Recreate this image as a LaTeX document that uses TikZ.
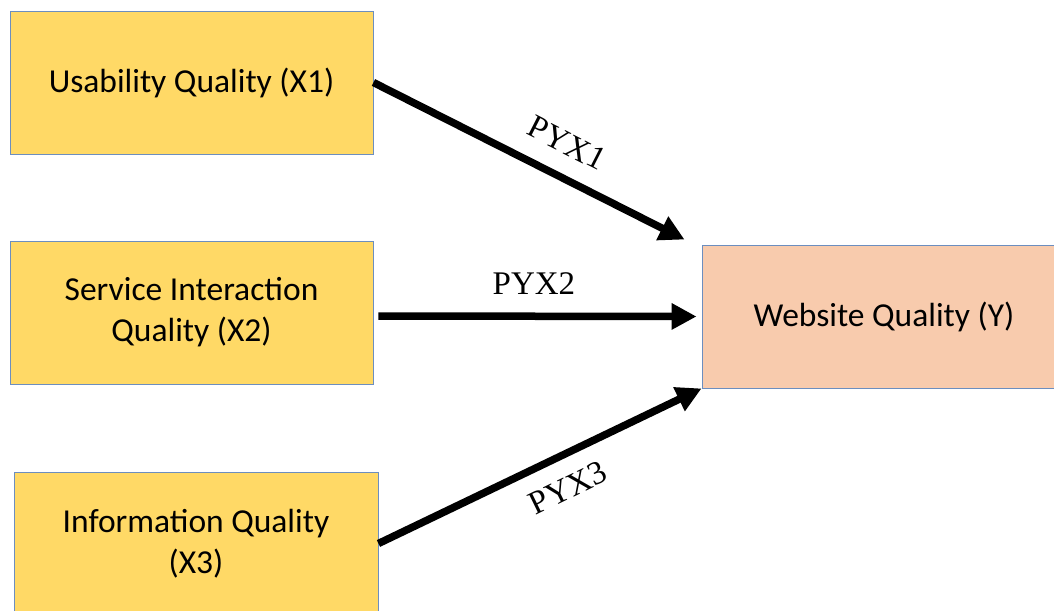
\documentclass[tikz,border=0pt]{standalone}
\usepackage{fontspec}
\setmainfont{Carlito}
\newfontfamily\labfont{Liberation Serif}
\usetikzlibrary{arrows.meta,calc}
\definecolor{boxyellow}{HTML}{FFD966}
\definecolor{boxpeach}{HTML}{F8CBAD}
\definecolor{boxedge}{HTML}{6C8EBF}
\tikzset{
  varbox/.style={draw=boxedge, line width=0.9pt, fill=boxyellow, minimum width=363pt, minimum height=143pt, inner sep=0pt, align=center, font=\fontsize{33.5}{41}\selectfont},
  outbox/.style={varbox, fill=boxpeach, minimum width=364pt},
  patharrow/.style={line width=7.5pt, -{Triangle[length=25pt,width=25pt]}},
  pathlabel/.style={font=\labfont\fontsize{33}{33}\selectfont, inner sep=0pt}
}
\begin{document}
\begin{tikzpicture}[x=1pt,y=-1pt]
\useasboundingbox (0,0) rectangle (1054,610);
\node[varbox] (b1) at (191.5,82.5) {Usability Quality (X1)};
\node[varbox] (b2) at (191.5,312.5) {Service Interaction\\Quality (X2)};
\node[varbox, minimum width=364pt] (b3) at (196,543.5) {Information Quality\\(X3)};
\node[outbox] (w) at (884,316.5) {Website Quality (Y)};
\coordinate (t1) at ($(w.north west)+(-17,-5)$);
\coordinate (s2) at ($(b2.east)+(5,3.5)$);
\coordinate (t2) at ($(w.west)+(-5,0)$);
\draw[patharrow] (b1.east) -- (t1);
\draw[patharrow] (s2) -- (t2);
\draw[patharrow] (b3.east) -- (w.south west);
\node[pathlabel, rotate=-27] (l1) at (567,143) {PYX1};
\node[pathlabel] (l2) at (534,284) {PYX2};
\node[pathlabel, rotate=26] (l3) at (568,488) {PYX3};
\end{tikzpicture}
\end{document}
